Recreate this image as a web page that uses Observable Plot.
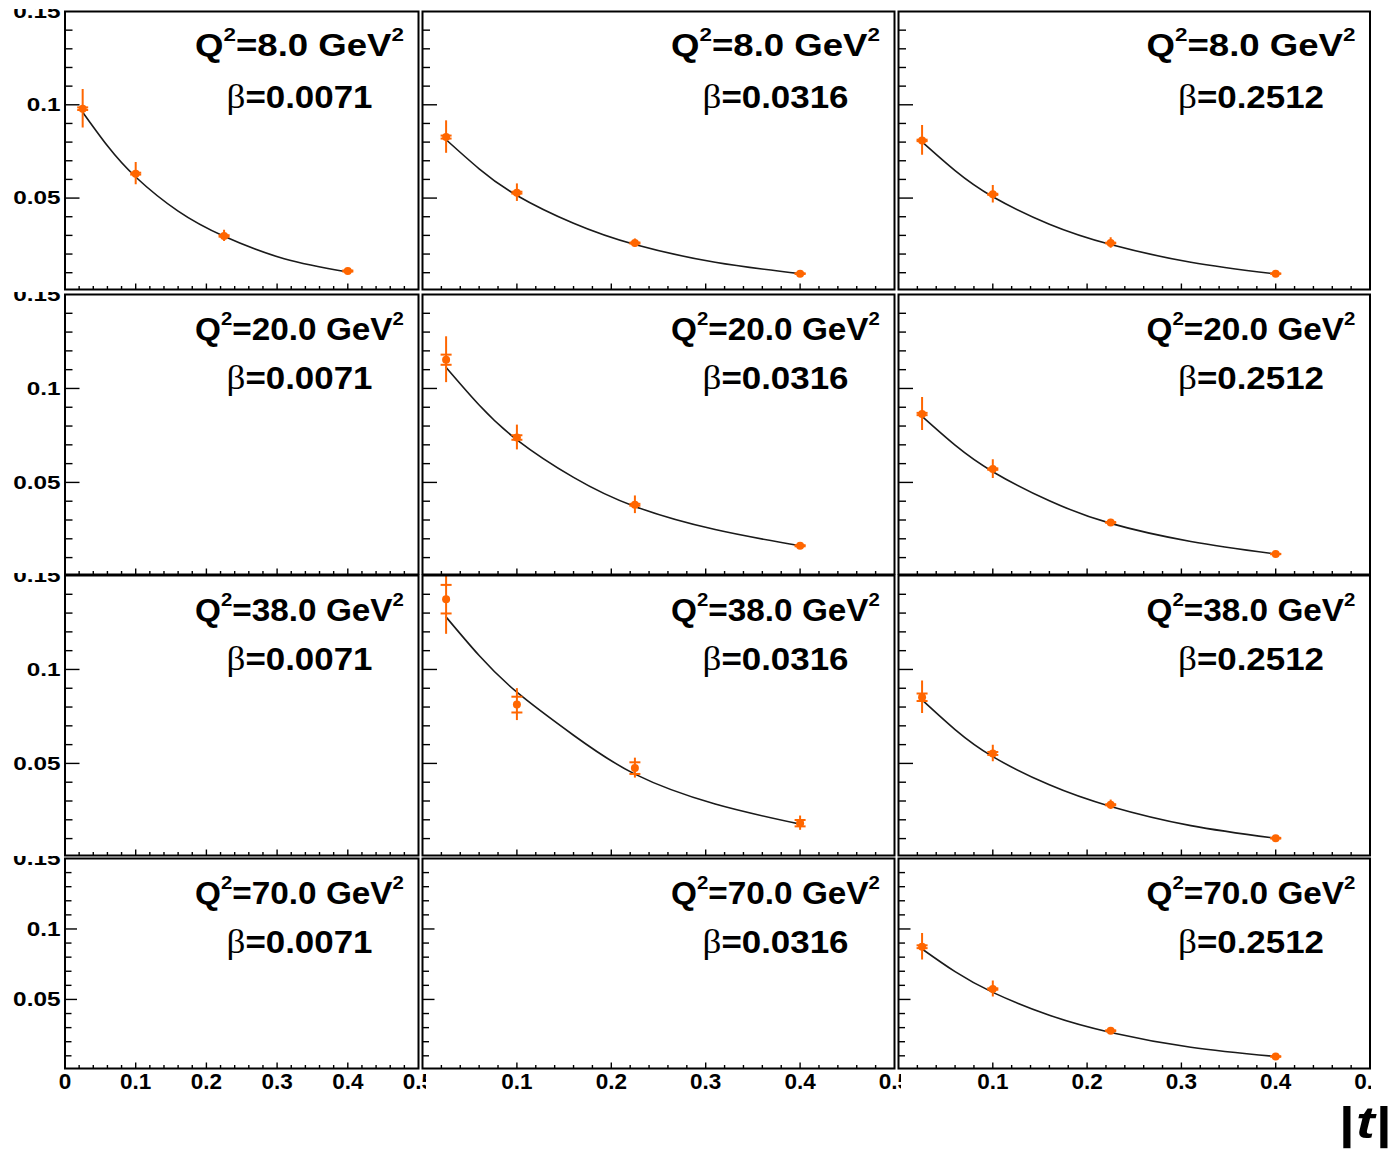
<!DOCTYPE html>
<html>
<head>
<meta charset="utf-8">
<script src="https://cdn.jsdelivr.net/npm/d3@7"></script>
<script src="https://cdn.jsdelivr.net/npm/@observablehq/plot@0.6"></script>
<style>
  body { margin: 0; background: #fff; }
  #chart { position: relative; width: 1398px; height: 1149px; background: #fff; overflow: hidden;
           font-family: "Liberation Sans", Arial, sans-serif; }
  #chart svg { position: absolute; overflow: hidden; }
  #tlabel { position: absolute; left: 1290px; width: 103px; top: 1100px; text-align: right;
            font: bold 45px/45px "Liberation Sans", Arial, sans-serif; color: #000; white-space: nowrap;
            transform: scaleX(1.25); transform-origin: right center; letter-spacing: 1px; }
  #tlabel i { font-style: italic; }
</style>
</head>
<body>
<div id="chart"></div>
<script>
// ---------------- data ----------------
const q2Labels = ["8.0", "20.0", "38.0", "70.0"];          // rows
const betaLabels = ["0.0071", "0.0316", "0.2512"];          // columns
const tValues = [0.025, 0.1, 0.225, 0.4];                    // |t| of the measured points
const fitT = [0.025, 0.06, 0.1, 0.16, 0.225, 0.31, 0.4];     // |t| where the fitted curve was read

// [row][col]; null = empty panel
const sigma = [
  [[0.0979, 0.0631, 0.0297, 0.0109], [0.0827, 0.0529, 0.0259, 0.0095], [0.0809, 0.0520, 0.0259, 0.0095]],
  [null, [0.1153, 0.0739, 0.0381, 0.0163], [0.0864, 0.0571, 0.0287, 0.0119]],
  [null, [0.1374, 0.0813, 0.0475, 0.0182], [0.0852, 0.0553, 0.0280, 0.0102]],
  [null, null, [0.0874, 0.0574, 0.0278, 0.0095]]
];
const errOuter = [
  [[0.0103, 0.0060, 0.0030, 0.0010], [0.0087, 0.0047, 0.0022, 0.0008], [0.0080, 0.0047, 0.0028, 0.0008]],
  [null, [0.0122, 0.0066, 0.0047, 0.0010], [0.0088, 0.0050, 0.0016, 0.0008]],
  [null, [0.0187, 0.0085, 0.0053, 0.0038], [0.0087, 0.0044, 0.0025, 0.0008]],
  [null, null, [0.0094, 0.0057, 0.0020, 0.0008]]
];
const errInner = [
  [[0.0007, 0.0005, 0.0004, 0.0003], [0.0008, 0.0005, 0.0003, 0.0002], [0.0004, 0.0003, 0.0002, 0.0001]],
  [null, [0.0027, 0.0012, 0.0005, 0.0003], [0.0006, 0.0004, 0.0002, 0.0001]],
  [null, [0.0076, 0.0042, 0.0031, 0.0017], [0.0020, 0.0008, 0.0003, 0.0002]],
  [null, null, [0.0010, 0.0005, 0.0003, 0.0002]]
];
const fitValues = [
  [[0.0960, 0.0780, 0.0613, 0.0430, 0.0295, 0.0175, 0.0104],
   [0.0813, 0.0657, 0.0514, 0.0365, 0.0251, 0.0156, 0.0095],
   [0.0801, 0.0647, 0.0507, 0.0360, 0.0251, 0.0156, 0.0093]],
  [null,
   [0.1112, 0.0912, 0.0727, 0.0527, 0.0372, 0.0249, 0.0163],
   [0.0851, 0.0698, 0.0557, 0.0402, 0.0282, 0.0186, 0.0119]],
  [null,
   [0.1279, 0.1074, 0.0879, 0.0650, 0.0443, 0.0284, 0.0177],
   [0.0838, 0.0680, 0.0536, 0.0386, 0.0271, 0.0169, 0.0102]],
  [null, null,
   [0.0858, 0.0697, 0.0550, 0.0388, 0.0266, 0.0161, 0.0095]]
];

const yTickLabels = [0.05, 0.1, 0.15];
const xTickLabels = [0, 0.1, 0.2, 0.3, 0.4, 0.5];
const yMajorTicks = [0.05, 0.1];
const yMinorTicks = [0.01, 0.02, 0.03, 0.04, 0.06, 0.07, 0.08, 0.09, 0.11, 0.12, 0.13, 0.14];
const xMajorTicks = [0.1, 0.2, 0.3, 0.4];
const xMinorTicks = [0.02, 0.04, 0.06, 0.08, 0.12, 0.14, 0.16, 0.18, 0.22, 0.24, 0.26, 0.28,
                     0.32, 0.34, 0.36, 0.38, 0.42, 0.44, 0.46, 0.48];

// ---------------- layout ----------------
const cols = [
  {left: 0,   width: 426, ml: 64.5, mr: 8},
  {left: 421, width: 480, ml: 1,    mr: 7},
  {left: 897, width: 474, ml: 1,    mr: 1.5}
];
const rows = [
  {top: 9,     mt: 2,  fh: 278, mb: 2},
  {top: 291.5, mt: 2,  fh: 280, mb: 1.5},
  {top: 573,   mt: 2,  fh: 280, mb: 2},
  {top: 856,   mt: 2,  fh: 210, mb: 81}
];

const ORANGE = "#ff6600";
const hbar = {draw(ctx) { ctx.moveTo(-5.5, 0); ctx.lineTo(5.5, 0); }};
const chart = document.getElementById("chart");
const SVGNS = "http://www.w3.org/2000/svg";

function addScale(el, s) {
  const tr = el.getAttribute("transform") || "";
  el.setAttribute("transform", `${tr} scale(${s},1)`);
}
function tspan(parent, txt, attrs) {
  const t = document.createElementNS(SVGNS, "tspan");
  for (const k in attrs) t.setAttribute(k, attrs[k]);
  t.textContent = txt;
  parent.appendChild(t);
  return t;
}

const titleTexts = [];

rows.forEach((row, r) => {
  cols.forEach((col, c) => {
    const fw = col.width - col.ml - col.mr;
    const fh = row.fh;
    const bottomRow = r === rows.length - 1;
    const majorLen = bottomRow ? 12.5 : 15;
    const minorLen = bottomRow ? 7 : 8;
    const marks = [];

    // inward ticks (left and bottom)
    marks.push(Plot.tickY(yMajorTicks, {y: d => d, stroke: "#000", strokeWidth: 1.4, insetRight: fw - majorLen}));
    marks.push(Plot.tickY(yMinorTicks, {y: d => d, stroke: "#000", strokeWidth: 1.4, insetRight: fw - minorLen}));
    marks.push(Plot.tickX(xMajorTicks, {x: d => d, stroke: "#000", strokeWidth: 1.4, insetTop: fh - 5.5}));
    marks.push(Plot.tickX(xMinorTicks, {x: d => d, stroke: "#000", strokeWidth: 1.4, insetTop: fh - 3}));

    const sig = sigma[r][c];
    if (sig) {
      const pts = tValues.map((t, i) => ({t, s: sig[i], eo: errOuter[r][c][i], ei: errInner[r][c][i]}));
      const fit = fitT.map((t, i) => ({t, s: fitValues[r][c][i]}));
      marks.push(Plot.line(fit, {x: "t", y: "s", curve: "natural", stroke: "#1a1a1a", strokeWidth: 1.6}));
      marks.push(Plot.ruleX(pts, {x: "t", y1: d => d.s - d.eo, y2: d => d.s + d.eo, stroke: ORANGE, strokeWidth: 2, clip: true}));
      marks.push(Plot.dot(pts, {x: "t", y: d => d.s + d.ei, symbol: hbar, fill: "none", stroke: ORANGE, strokeWidth: 2}));
      marks.push(Plot.dot(pts, {x: "t", y: d => d.s - d.ei, symbol: hbar, fill: "none", stroke: ORANGE, strokeWidth: 2}));
      marks.push(Plot.dot(pts, {x: "t", y: "s", r: 4, fill: ORANGE, stroke: "none"}));
    }

    marks.push(Plot.frame({stroke: "#000", strokeWidth: 2}));

    // panel labels
    marks.push(Plot.text([q2Labels[r]], {text: d => `Q2=${d} GeV2`, frameAnchor: "top-right", dx: -119,
      dy: r === 0 ? 44.5 : 45.5, lineAnchor: "bottom", textAnchor: "middle", fontSize: 31, fontWeight: "bold", fill: "#000"}));
    marks.push(Plot.text([betaLabels[c]], {text: d => `β=${d}`, frameAnchor: "top-right", dx: -119,
      dy: r === 0 ? 96 : 94.5, lineAnchor: "bottom", textAnchor: "middle", fontSize: 31, fontWeight: "bold", fill: "#000"}));

    if (c === 0) {
      marks.push(Plot.axisY({ticks: yTickLabels, tickSize: 0, tickPadding: 4.5, tickFormat: d => String(d),
        fontSize: bottomRow ? 21 : 19, fontWeight: "bold", label: null}));
    }
    if (bottomRow) {
      marks.push(Plot.axisX({ticks: c === 0 ? xTickLabels : xTickLabels.slice(1), tickSize: 0, tickPadding: 5,
        tickFormat: d => String(d), fontSize: 22.5, fontWeight: "bold", label: null}));
    }

    const svg = Plot.plot({
      width: col.width,
      height: row.mt + row.fh + row.mb,
      marginLeft: col.ml, marginRight: col.mr, marginTop: row.mt, marginBottom: row.mb,
      x: {domain: [0, 0.5], axis: null},
      y: {domain: [0.001, 0.15], axis: null},
      style: {background: "transparent", overflow: "hidden", color: "#000",
              fontFamily: "'Liberation Sans', Arial, Helvetica, sans-serif"},
      marks
    });
    svg.style.position = "absolute";
    svg.style.left = col.left + "px";
    svg.style.top = row.top + "px";
    svg.style.maxWidth = "none";
    chart.appendChild(svg);

    // y tick labels: ROOT-like wide bold digits
    svg.querySelectorAll('g[aria-label="y-axis tick label"] text').forEach(el => addScale(el, bottomRow ? 1.16 : 1.28));

    // rebuild title texts with superscripts and symbol beta
    const groups = svg.querySelectorAll('g[aria-label="text"]');
    const qEl = groups[0].querySelector("text");
    const bEl = groups[1].querySelector("text");
    qEl.textContent = "";
    tspan(qEl, "Q", {});
    tspan(qEl, "2", {"font-size": 19, dy: -15});
    tspan(qEl, `=${q2Labels[r]} GeV`, {dy: 15});
    tspan(qEl, "2", {"font-size": 19, dy: -15});
    bEl.textContent = "";
    tspan(bEl, "β", {"font-family": "'Liberation Serif', 'DejaVu Serif', serif", "font-weight": "normal", "font-size": 33});
    tspan(bEl, `=${betaLabels[c]}`, {});
    titleTexts.push([qEl, 209], [bEl, 146]);
  });
});

// stretch titles to the reference widths
titleTexts.forEach(([el, target]) => {
  const w = el.getBBox().width;
  if (w > 0) addScale(el, target / w);
});

// axis title
const tl = document.createElement("div");
tl.id = "tlabel";
tl.innerHTML = "|<i>t</i>|";
chart.appendChild(tl);
</script>
</body>
</html>
